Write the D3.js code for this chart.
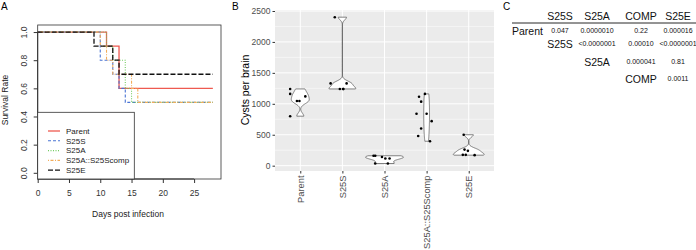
<!DOCTYPE html>
<html>
<head>
<meta charset="utf-8">
<script src="https://cdn.jsdelivr.net/npm/d3@7"></script>
<style>
  body { margin: 0; background: #fff; }
  svg { display: block; font-family: 'Liberation Sans', Arial, sans-serif; }
</style>
</head>
<body>
<script>
// ---- data ----
// A: survival curves, value at each day in `days` (step after)
const days = [0, 9, 10, 11, 12, 13, 14, 15, 16, 28];
const survParent = [1, 1, 1, 0.9, 0.9, 0.6, 0.6, 0.6, 0.6, 0.6];
const survS25S = [1, 1, 0.8, 0.8, 0.7, 0.6, 0.5, 0.5, 0.5, 0.5];
const survS25A = [1, 1, 1, 0.9, 0.8, 0.8, 0.6, 0.5, 0.5, 0.5];
const survComp = [1, 1, 0.9, 0.8, 0.7, 0.7, 0.7, 0.6, 0.5, 0.5];
const survS25E = [1, 0.9, 0.9, 0.9, 0.8, 0.7, 0.7, 0.7, 0.7, 0.7];
const survNames = ['Parent', 'S25S', 'S25A', 'S25A::S25Scomp', 'S25E'];
const xTicksA = [0, 5, 10, 15, 20, 25];
const yTicksA = [0, 0.2, 0.4, 0.6, 0.8, 1.0];

// B: cysts per brain
const strains = ['Parent', 'S25S', 'S25A', 'S25A::S25Scomp', 'S25E'];
const cystsParent = [1240, 1160, 1045, 1045, 1120, 800];
const cystsS25S = [2400, 1330, 1330, 1240, 1240, 1240];
const cystsS25A = [160, 160, 140, 115, 115, 35, 35];
const cystsComp = [1160, 1115, 1035, 840, 840, 720, 600, 480, 395];
const cystsS25E = [500, 260, 240, 175, 175, 170];
// horizontal jitter of the points, in category steps
const jitParent = [-0.24, -0.24, -0.08, -0.02, 0.12, -0.24];
const jitS25S = [-0.18, -0.28, 0.1, -0.06, 0.02, 0.02];
const jitS25A = [-0.26, -0.22, -0.06, 0.02, 0.12, -0.22, 0.08];
const jitComp = [-0.04, -0.18, -0.13, -0.24, 0, 0.12, -0.13, -0.2, 0.08];
const jitS25E = [-0.12, -0.1, -0.02, -0.14, -0.07, 0.14];
const yTicksB = [0, 500, 1000, 1500, 2000, 2500];

// C: p-value table
const tableCols = ['S25S', 'S25A', 'COMP', 'S25E'];
const tableRows = ['Parent', 'S25S', 'S25A', 'COMP'];
const pParent = ['0.047', '0.0000010', '0.22', '0.000016'];
const pS25S = ['', '<0.0000001', '0.00010', '<0.0000001'];
const pS25A = ['', '', '0.000041', '0.81'];
const pComp = ['', '', '', '0.0011'];

const svg = d3.select('body').append('svg').attr('width', 696).attr('height', 250);

// =============== A ===============
const xA = d3.scaleLinear([0, 29.3], [37.7, 221]);
const yA = d3.scaleLinear([-0.044, 1.05], [179, 25]);

svg.append('text').attr('x', 1).attr('y', 10).attr('font-size', 10).text('A');

const series = [
  { name: survNames[0], vals: survParent, color: '#ee5a50', dash: null, w: 1.3 },
  { name: survNames[1], vals: survS25S, color: '#4a74d4', dash: '3,2', w: 1.1 },
  { name: survNames[2], vals: survS25A, color: '#74cc62', dash: '1,1.5', w: 1.1 },
  { name: survNames[3], vals: survComp, color: '#f2ad5c', dash: '1,1.5,3,1.5', w: 1.1 },
  { name: survNames[4], vals: survS25E, color: '#111', dash: '5,2', w: 1.3 },
];

const stepLine = d3.line().curve(d3.curveStepAfter).x((d) => xA(d[0])).y((d) => yA(d[1]));
svg.append('g').selectAll('path').data(series).join('path')
  .attr('d', (s) => stepLine(days.map((t, i) => [t, s.vals[i]])))
  .attr('fill', 'none')
  .attr('stroke', (s) => s.color)
  .attr('stroke-width', (s) => s.w)
  .attr('stroke-dasharray', (s) => s.dash);

// box
svg.append('rect').attr('x', 37.7).attr('y', 25).attr('width', 221 - 37.7).attr('height', 154)
  .attr('fill', 'none').attr('stroke', '#333').attr('stroke-width', 0.8);

// axes
const axA = svg.append('g').attr('transform', 'translate(0,179)')
  .call(d3.axisBottom(xA).tickValues(xTicksA).tickSize(4).tickPadding(7).tickSizeOuter(0));
axA.select('.domain').attr('d', `M${xA(0)},0H${xA(25)}`);
const ayA = svg.append('g').attr('transform', 'translate(37.7,0)')
  .call(d3.axisLeft(yA).tickValues(yTicksA).tickSize(4).tickFormat(d3.format('.1f')).tickSizeOuter(0));
ayA.select('.domain').attr('d', `M0,${yA(0)}V${yA(1)}`);
ayA.selectAll('.tick text').attr('transform', 'rotate(-90)').attr('text-anchor', 'middle')
  .attr('x', 0).attr('y', -11).attr('dy', 0);
svg.selectAll('.tick text').attr('font-family', null).attr('font-size', 8.5).attr('fill', '#333');
svg.selectAll('.tick line, .domain').attr('stroke', '#333');

svg.append('text').attr('x', 128).attr('y', 217).attr('text-anchor', 'middle')
  .attr('font-size', 8.5).attr('fill', '#222').text('Days post infection');
svg.append('text').attr('transform', 'translate(8,100) rotate(-90)').attr('text-anchor', 'middle')
  .attr('font-size', 8.5).attr('fill', '#222').text('Survival Rate');

// legend
const leg = svg.append('g');
leg.append('rect').attr('x', 37.7).attr('y', 112.3).attr('width', 96.6).attr('height', 66.7)
  .attr('fill', '#fff').attr('stroke', '#333').attr('stroke-width', 0.8);
const li = leg.selectAll('g').data(series).join('g')
  .attr('transform', (d, i) => `translate(0,${131 + i * 9.8})`);
li.append('line').attr('x1', 48).attr('x2', 60)
  .attr('stroke', (d) => d.color).attr('stroke-width', (d) => d.w).attr('stroke-dasharray', (d) => d.dash);
li.append('text').attr('x', 66).attr('dy', '0.35em').attr('font-size', 8).attr('fill', '#222').text((d) => d.name);

// =============== B ===============
const groups = [
  { name: strains[0], vals: cystsParent, jit: jitParent },
  { name: strains[1], vals: cystsS25S, jit: jitS25S },
  { name: strains[2], vals: cystsS25A, jit: jitS25A },
  { name: strains[3], vals: cystsComp, jit: jitComp },
  { name: strains[4], vals: cystsS25E, jit: jitS25E },
];
const xB = d3.scalePoint(strains, [275, 494]).padding(0.6);
const yB = d3.scaleLinear([-86, 2516], [171, 10]);
const step = xB.step();

svg.append('text').attr('x', 232).attr('y', 10).attr('font-size', 10).text('B');

svg.append('rect').attr('x', 275).attr('y', 10).attr('width', 219).attr('height', 161).attr('fill', '#ebebeb');
const grid = svg.append('g');
grid.selectAll('.minor').data(d3.range(250, 2500, 500)).join('line')
  .attr('x1', 275).attr('x2', 494).attr('y1', (d) => yB(d)).attr('y2', (d) => yB(d))
  .attr('stroke', '#fff').attr('stroke-width', 0.5);
grid.selectAll('.major').data(yTicksB).join('line')
  .attr('x1', 275).attr('x2', 494).attr('y1', (d) => yB(d)).attr('y2', (d) => yB(d))
  .attr('stroke', '#fff').attr('stroke-width', 1);
grid.selectAll('.vmajor').data(strains).join('line')
  .attr('x1', (d) => xB(d)).attr('x2', (d) => xB(d)).attr('y1', 10).attr('y2', 171)
  .attr('stroke', '#fff').attr('stroke-width', 1);

// violin density (gaussian kernel, bw.nrd0, trimmed)
function kde(values) {
  const sorted = values.slice().sort(d3.ascending);
  const n = values.length;
  const sd = d3.deviation(values);
  const iqr = d3.quantileSorted(sorted, 0.75) - d3.quantileSorted(sorted, 0.25);
  let lo = Math.min(sd, iqr / 1.34);
  if (!lo) lo = sd;
  const bw = 0.9 * lo * Math.pow(n, -0.2);
  const [mn, mx] = d3.extent(values);
  return d3.range(200).map((i) => {
    const y = mn + ((mx - mn) * i) / 199;
    const dens = d3.mean(values, (v) => Math.exp(-0.5 * ((y - v) / bw) ** 2)) / (bw * Math.sqrt(2 * Math.PI));
    return [y, dens];
  });
}
groups.forEach((g) => (g.dens = kde(g.vals)));
const maxDens = d3.max(groups, (g) => d3.max(g.dens, (d) => d[1]));
const wB = d3.scaleLinear([0, maxDens], [0, 0.45 * step]);

svg.append('g').selectAll('path').data(groups).join('path')
  .attr('d', (g) => d3.area()
    .x0((d) => xB(g.name) - wB(d[1]))
    .x1((d) => xB(g.name) + wB(d[1]))
    .y((d) => yB(d[0]))(g.dens))
  .attr('fill', '#fff').attr('stroke', '#333').attr('stroke-width', 0.6);

svg.append('g').selectAll('g').data(groups).join('g')
  .selectAll('circle').data((g) => g.vals.map((v, i) => ({ name: g.name, v, j: g.jit[i] })))
  .join('circle')
  .attr('cx', (d) => xB(d.name) + d.j * step)
  .attr('cy', (d) => yB(d.v))
  .attr('r', 1.3).attr('fill', '#000');

const ayB = svg.append('g').attr('transform', 'translate(275,0)')
  .call(d3.axisLeft(yB).tickValues(yTicksB).tickFormat(d3.format('d')).tickSize(2.5).tickPadding(2));
const axB = svg.append('g').attr('transform', 'translate(0,171)')
  .call(d3.axisBottom(xB).tickSize(2.5).tickPadding(2));
ayB.select('.domain').remove();
axB.select('.domain').remove();
[ayB, axB].forEach((a) => {
  a.selectAll('.tick line').attr('stroke', '#333');
  a.selectAll('.tick text').attr('font-family', null).attr('font-size', 8.5).attr('fill', '#4d4d4d');
});
axB.selectAll('.tick text').attr('transform', 'rotate(-90)').attr('text-anchor', 'end')
  .attr('x', -4.5).attr('y', 0).attr('dy', '0.35em').attr('font-size', 9.3);

svg.append('text').attr('transform', 'translate(249,90) rotate(-90)').attr('text-anchor', 'middle')
  .attr('font-size', 10.5).attr('fill', '#000').text('Cysts per brain');

// =============== C ===============
const colX = [560, 597, 641, 678];
const rowY = [31, 44, 62, 79];
const pRows = [pParent, pS25S, pS25A, pComp];

svg.append('text').attr('x', 503).attr('y', 10).attr('font-size', 10).text('C');
const tab = svg.append('g').attr('fill', '#111');
tab.selectAll('.hd').data(tableCols).join('text')
  .attr('x', (d, i) => colX[i]).attr('y', 16).attr('dy', '0.35em')
  .attr('text-anchor', 'middle').attr('font-size', 10.5).text((d) => d);
tab.append('line').attr('x1', 512).attr('x2', 696).attr('y1', 23).attr('y2', 23)
  .attr('stroke', '#111').attr('stroke-width', 0.9);
tableRows.forEach((r, i) => {
  tab.append('text')
    .attr('x', i === 0 ? 512 : colX[i - 1]).attr('y', rowY[i]).attr('dy', '0.35em')
    .attr('text-anchor', i === 0 ? 'start' : 'middle').attr('font-size', 10.5).text(r);
  pRows[i].forEach((p, j) => {
    if (!p) return;
    tab.append('text').attr('x', colX[j]).attr('y', rowY[i]).attr('dy', '0.35em')
      .attr('text-anchor', 'middle').attr('font-size', 7).text(p);
  });
});
</script>
</body>
</html>
